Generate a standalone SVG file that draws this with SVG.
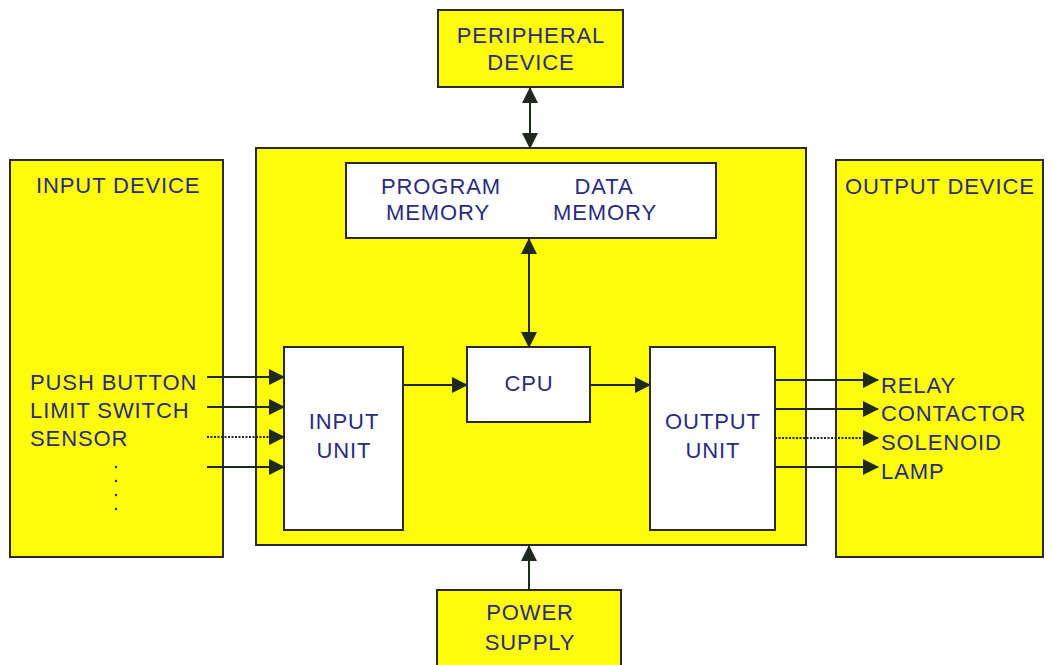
<svg xmlns="http://www.w3.org/2000/svg" width="1052" height="665" viewBox="0 0 1052 665">
<defs>
<style>
.yel{fill:#fefc0c;stroke:#2a2a2a;stroke-width:2}
.wht{fill:#ffffff;stroke:#2a2a2a;stroke-width:2}
.t{font-family:"Liberation Sans",Arial,sans-serif;font-size:22px;letter-spacing:0.9px;fill:#2b2b7e}
.c{text-anchor:middle}
.ln{stroke:#1f2a1f;stroke-width:2;fill:none}
.dot{stroke-dasharray:2 1.5}
</style>
<marker id="ah" markerUnits="userSpaceOnUse" markerWidth="17" markerHeight="16" refX="15" refY="8" orient="auto-start-reverse">
<path d="M0,0 L16,8 L0,16 Z" fill="#1f2a1f"/>
</marker>
</defs>
<rect width="1052" height="665" fill="#ffffff"/>

<g id="peripheral">
<rect class="yel" x="438" y="10" width="185" height="77"/>
<text class="t c" x="531" y="43">PERIPHERAL</text>
<text class="t c" x="531" y="70">DEVICE</text>
</g>

<g id="input-device">
<rect class="yel" x="10" y="160" width="213" height="397"/>
<text class="t" x="36" y="193">INPUT DEVICE</text>
<text class="t" x="30" y="390">PUSH BUTTON</text>
<text class="t" x="30" y="418">LIMIT SWITCH</text>
<text class="t" x="30" y="446">SENSOR</text>
<circle cx="116" cy="467" r="1.2" fill="#2b2b7e"/>
<circle cx="116" cy="481" r="1.2" fill="#2b2b7e"/>
<circle cx="116" cy="495" r="1.2" fill="#2b2b7e"/>
<circle cx="116" cy="509" r="1.2" fill="#2b2b7e"/>
</g>

<g id="plc">
<rect class="yel" x="256" y="148" width="550" height="397"/>
</g>

<g id="memory">
<rect class="wht" x="346" y="163" width="370" height="75"/>
<text class="t c" x="441" y="194">PROGRAM</text>
<text class="t c" x="438" y="220">MEMORY</text>
<text class="t c" x="604" y="194">DATA</text>
<text class="t c" x="605" y="220">MEMORY</text>
</g>

<g id="input-unit">
<rect class="wht" x="284" y="347" width="119" height="183"/>
<text class="t c" x="344" y="429">INPUT</text>
<text class="t c" x="344" y="458">UNIT</text>
</g>

<g id="cpu">
<rect class="wht" x="467" y="347" width="123" height="75"/>
<text class="t c" x="529" y="391">CPU</text>
</g>

<g id="output-unit">
<rect class="wht" x="650" y="347" width="125" height="183"/>
<text class="t c" x="713" y="429">OUTPUT</text>
<text class="t c" x="713" y="458">UNIT</text>
</g>

<g id="output-device">
<rect class="yel" x="836" y="160" width="207" height="397"/>
<text class="t" x="845" y="194">OUTPUT DEVICE</text>
<text class="t" x="881" y="393">RELAY</text>
<text class="t" x="881" y="421">CONTACTOR</text>
<text class="t" x="881" y="450">SOLENOID</text>
<text class="t" x="881" y="479">LAMP</text>
</g>

<g id="power-supply">
<rect class="yel" x="437" y="590" width="184" height="90"/>
<text class="t c" x="530" y="620">POWER</text>
<text class="t c" x="530" y="650">SUPPLY</text>
</g>

<g id="connectors">
<line class="ln" x1="530" y1="88" x2="530" y2="148" marker-start="url(#ah)" marker-end="url(#ah)"/>
<line class="ln" x1="529" y1="239" x2="529" y2="347" marker-start="url(#ah)" marker-end="url(#ah)"/>
<line class="ln" x1="529" y1="590" x2="529" y2="546" marker-end="url(#ah)"/>
<line class="ln" x1="207" y1="377" x2="284" y2="377" marker-end="url(#ah)"/>
<line class="ln" x1="207" y1="407" x2="284" y2="407" marker-end="url(#ah)"/>
<line class="ln dot" x1="207" y1="437" x2="284" y2="437" marker-end="url(#ah)"/>
<line class="ln" x1="207" y1="467" x2="284" y2="467" marker-end="url(#ah)"/>
<line class="ln" x1="403" y1="385" x2="467" y2="385" marker-end="url(#ah)"/>
<line class="ln" x1="590" y1="385" x2="650" y2="385" marker-end="url(#ah)"/>
<line class="ln" x1="775" y1="380" x2="878" y2="380" marker-end="url(#ah)"/>
<line class="ln" x1="775" y1="409" x2="878" y2="409" marker-end="url(#ah)"/>
<line class="ln dot" x1="775" y1="438" x2="878" y2="438" marker-end="url(#ah)"/>
<line class="ln" x1="775" y1="467" x2="878" y2="467" marker-end="url(#ah)"/>
</g>
</svg>
